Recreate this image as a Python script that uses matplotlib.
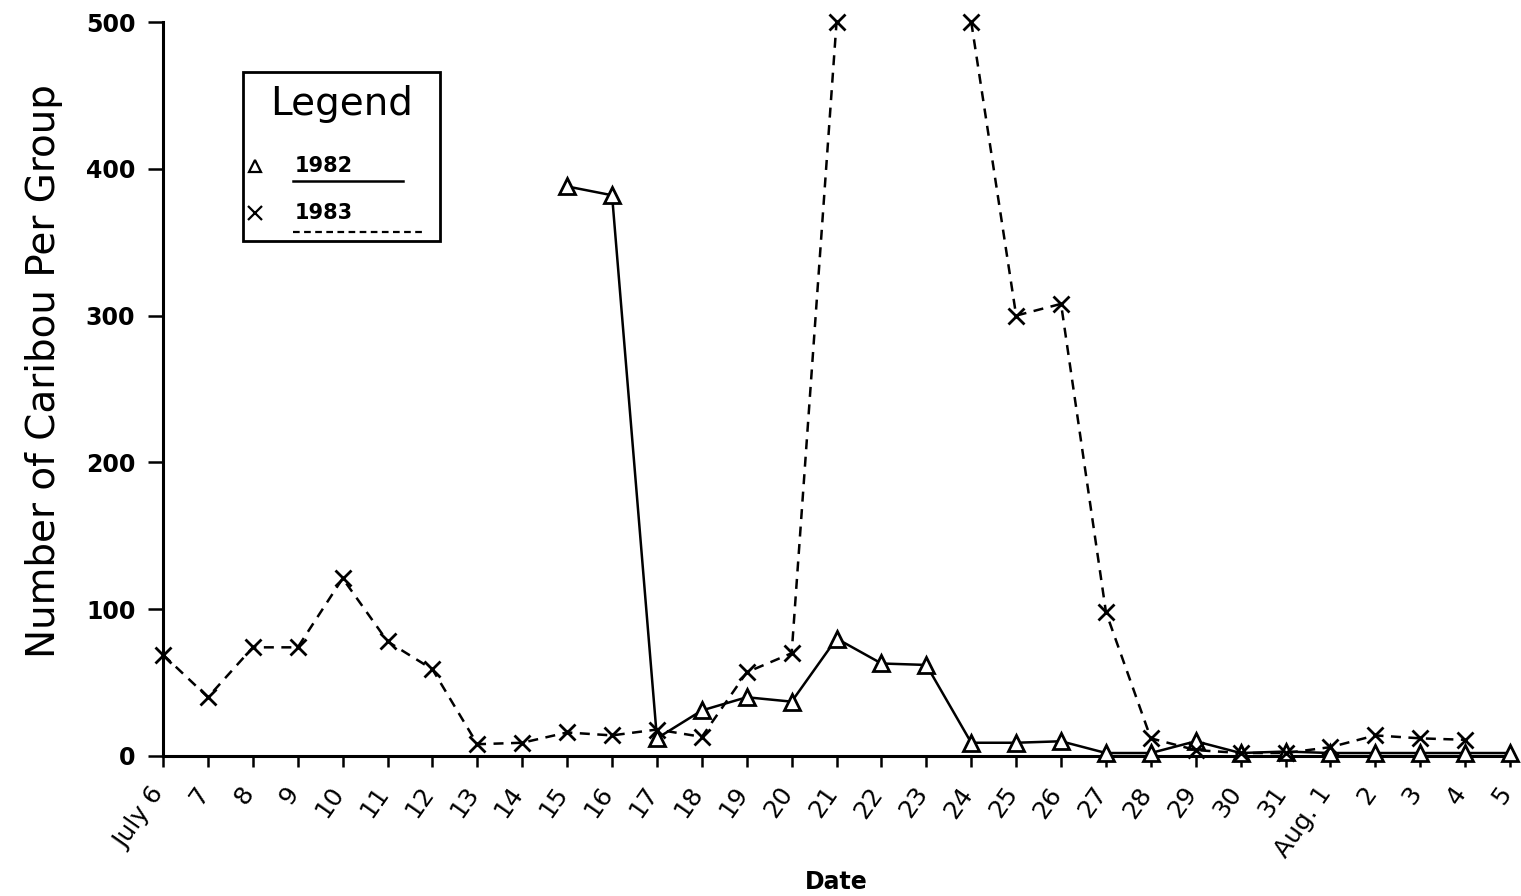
import numpy as np
import matplotlib.pyplot as plt
import matplotlib.transforms as mtransforms
from matplotlib.lines import Line2D
from matplotlib.patches import Rectangle

# Dates from July 6 to Aug. 5
date_labels = ["July 6", "7", "8", "9", "10", "11", "12", "13", "14", "15",
               "16", "17", "18", "19", "20", "21", "22", "23", "24", "25",
               "26", "27", "28", "29", "30", "31", "Aug. 1", "2", "3", "4", "5"]

nan = np.nan
# 1982 groups (no surveys before July 15)
caribou_1982 = [nan, nan, nan, nan, nan, nan, nan, nan, nan, 388,
                382, 12, 31, 40, 37, 80, 63, 62, 9, 9,
                10, 2, 2, 10, 2, 3, 2, 2, 2, 2, 2]
# 1983 groups (July 21 and 24 run off the top of the scale, 22-23 not plotted)
caribou_1983 = [69, 40, 74, 74, 121, 78, 59, 8, 9, 16,
                14, 18, 13, 57, 70, 500, nan, nan, 500, 300,
                308, 98, 12, 4, 2, 2, 6, 14, 12, 11, nan]

x = np.arange(len(date_labels))

fig = plt.figure(figsize=(15.21, 8.96), dpi=100)
ax = fig.add_axes([0.1072, 0.1563, 0.8856, 0.8191])

ax.plot(x, caribou_1982, color="black", lw=1.8, marker="^", ms=11,
        mfc="white", mec="black", mew=2.0, clip_on=False, zorder=3)
ax.plot(x, caribou_1983, color="black", lw=1.8, ls=(0, (4, 3)), marker="x",
        ms=12, mec="black", mew=2.0, clip_on=False, zorder=3)

ax.set_xlim(0, 30)
ax.set_ylim(0, 500)
ax.spines["top"].set_visible(False)
ax.spines["right"].set_visible(False)
for s in ("left", "bottom"):
    ax.spines[s].set_linewidth(2.2)

ax.set_yticks([0, 100, 200, 300, 400, 500])
ax.tick_params(axis="y", direction="out", length=11, width=1.8,
               labelsize=17, pad=9)
for lab in ax.get_yticklabels():
    lab.set_fontweight("bold")

ax.set_xticks(x)
ax.set_xticklabels(date_labels, rotation=55, ha="right", va="center",
                   rotation_mode="anchor", fontsize=18)
ax.tick_params(axis="x", direction="out", length=8, width=1.8, pad=16)
shift = mtransforms.ScaledTranslation(-4 / 100, 0, fig.dpi_scale_trans)
for lab in ax.get_xticklabels():
    lab.set_transform(lab.get_transform() + shift)

ax.set_ylabel("Number of Caribou Per Group", fontsize=28)
ax.yaxis.set_label_coords(-0.074, 0.525)
ax.set_xlabel("Date", fontsize=17, fontweight="bold")
ax.xaxis.set_label_coords(0.5, -0.155)

# hand-built legend box
tr = ax.transAxes
ax.add_patch(Rectangle((0.0594, 0.7016), 0.1462, 0.2304, transform=tr,
                       fill=False, lw=2.0, ec="black", zorder=5))
ax.text(0.1325, 0.888, "Legend", transform=tr, ha="center", va="center",
        fontsize=28)
ax.add_line(Line2D([0.0683], [0.8038], transform=tr, marker="^", ms=8,
                   mfc="white", mec="black", mew=1.6, ls="none"))
ax.text(0.098, 0.8038, "1982", transform=tr, ha="left", va="center",
        fontsize=15, fontweight="bold")
ax.add_line(Line2D([0.0965, 0.1782], [0.7834, 0.7834], transform=tr,
                   color="black", lw=1.8))
ax.add_line(Line2D([0.0683], [0.7398], transform=tr, marker="x", ms=10,
                   mec="black", mew=1.6, ls="none"))
ax.text(0.098, 0.7398, "1983", transform=tr, ha="left", va="center",
        fontsize=15, fontweight="bold")
ax.add_line(Line2D([0.0965, 0.1945], [0.7139, 0.7139], transform=tr,
                   color="black", lw=1.6, ls=(0, (3, 2))))

fig.savefig("out.png", dpi=100)
